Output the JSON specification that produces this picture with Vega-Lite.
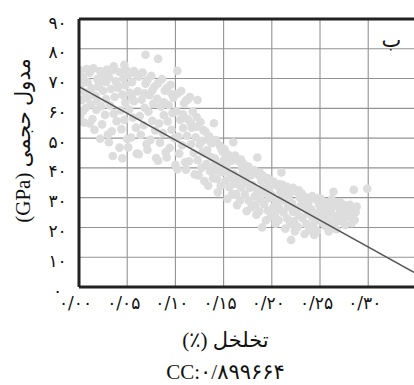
{
  "$schema": "https://vega.github.io/schema/vega-lite/v6.json",
  "width": 335,
  "height": 268,
  "autosize": {"type": "none"},
  "padding": {"left": 79, "top": 19, "right": 0, "bottom": 98},
  "background": "white",
  "view": {"stroke": null},
  "config": {"font": "Liberation Serif, DejaVu Sans"},
  "encoding": {
    "x": {
      "field": "p", "type": "quantitative",
      "scale": {"domain": [0, 0.3475], "nice": false, "zero": false},
      "axis": {
        "values": [0, 0.05, 0.1, 0.15, 0.2, 0.25, 0.3],
        "labelExpr": "['۰/۰۰','۰/۰۵','۰/۱۰','۰/۱۵','۰/۲۰','۰/۲۵','۰/۳۰'][round(datum.value*20)]",
        "grid": false, "ticks": false, "domain": false,
        "labelFont": "DejaVu Sans", "labelFontSize": 17, "labelColor": "#111111",
        "labelPadding": 8, "labelFlush": false, "labelOverlap": false, "labelOffset": -4,
        "title": ["(٪) تخلخل", "CC:۰/۸۹۹۶۶۴"],
        "titleFontSize": 21, "titleFontWeight": "normal", "titleColor": "#111111",
        "titleX": 146, "titleY": 59, "titleAlign": "center", "titleBaseline": "alphabetic",
        "titleLineHeight": 32
      }
    },
    "y": {
      "field": "m", "type": "quantitative",
      "scale": {"domain": [0, 90], "nice": false},
      "axis": {
        "values": [0, 10, 20, 30, 40, 50, 60, 70, 80, 90],
        "labelExpr": "['۰','۱۰','۲۰','۳۰','۴۰','۵۰','۶۰','۷۰','۸۰','۹۰'][round(datum.value/10)]",
        "grid": false, "ticks": false, "domain": false,
        "labelFont": "DejaVu Sans", "labelFontSize": 17, "labelColor": "#111111",
        "labelAlign": "center", "labelPadding": 22, "labelOffset": 4,
        "labelOverlap": false, "labelBound": false, "labelFlush": false,
        "title": "(GPa) مدول حجمی",
        "titleFontSize": 21, "titleFontWeight": "normal", "titleColor": "#111111",
        "titleAngle": -90, "titleX": -56, "titleY": 121, "titleAlign": "center", "titleBaseline": "middle"
      }
    }
  },
  "layer": [
    {
      "data": {"values": [
        {"p": 0.05, "m": 0, "p2": 0.05, "m2": 90},
        {"p": 0.10, "m": 0, "p2": 0.10, "m2": 90},
        {"p": 0.15, "m": 0, "p2": 0.15, "m2": 90},
        {"p": 0.20, "m": 0, "p2": 0.20, "m2": 90},
        {"p": 0.25, "m": 0, "p2": 0.25, "m2": 90},
        {"p": 0.30, "m": 0, "p2": 0.30, "m2": 90},
        {"p": 0, "m": 10, "p2": 0.3475, "m2": 10},
        {"p": 0, "m": 20, "p2": 0.3475, "m2": 20},
        {"p": 0, "m": 30, "p2": 0.3475, "m2": 30},
        {"p": 0, "m": 40, "p2": 0.3475, "m2": 40},
        {"p": 0, "m": 50, "p2": 0.3475, "m2": 50},
        {"p": 0, "m": 60, "p2": 0.3475, "m2": 60},
        {"p": 0, "m": 70, "p2": 0.3475, "m2": 70},
        {"p": 0, "m": 80, "p2": 0.3475, "m2": 80}
      ]},
      "mark": {"type": "rule", "color": "#939393", "strokeWidth": 1.1},
      "encoding": {
        "x2": {"field": "p2"},
        "y2": {"field": "m2"}
      }
    },
    {
      "data": {"values": [
        {"p":0.001,"m":72.8},{"p":0.004,"m":70.5},{"p":0.008,"m":73.2},{"p":0.002,"m":67.9},{"p":0.006,"m":65.4},{"p":0.009,"m":68.7},{"p":0.003,"m":62.8},{"p":0.007,"m":60.1},{"p":0.001,"m":57.6},{"p":0.005,"m":55.2},{"p":0.009,"m":63.5},{"p":0.004,"m":59.0},
        {"p":0.011,"m":71.9},{"p":0.015,"m":73.4},{"p":0.019,"m":69.8},{"p":0.013,"m":66.7},{"p":0.017,"m":64.2},{"p":0.012,"m":61.3},{"p":0.018,"m":59.5},{"p":0.014,"m":56.4},{"p":0.016,"m":52.8},{"p":0.020,"m":67.3},{"p":0.011,"m":54.9},{"p":0.019,"m":62.5},
        {"p":0.022,"m":72.5},{"p":0.026,"m":70.8},{"p":0.029,"m":73.0},{"p":0.021,"m":68.2},{"p":0.025,"m":65.9},{"p":0.028,"m":63.1},{"p":0.023,"m":60.7},{"p":0.027,"m":57.8},{"p":0.024,"m":54.6},{"p":0.030,"m":51.2},{"p":0.022,"m":49.8},{"p":0.028,"m":68.9},
        {"p":0.031,"m":70.4},{"p":0.035,"m":72.9},{"p":0.038,"m":69.1},{"p":0.033,"m":66.5},{"p":0.037,"m":63.8},{"p":0.032,"m":61.0},{"p":0.036,"m":58.2},{"p":0.039,"m":55.7},{"p":0.034,"m":52.3},{"p":0.031,"m":48.6},{"p":0.040,"m":66.9},{"p":0.036,"m":74.1},
        {"p":0.042,"m":72.2},{"p":0.046,"m":70.1},{"p":0.049,"m":72.8},{"p":0.041,"m":67.4},{"p":0.045,"m":64.6},{"p":0.048,"m":61.9},{"p":0.043,"m":59.3},{"p":0.047,"m":56.1},{"p":0.044,"m":53.0},{"p":0.050,"m":49.7},{"p":0.042,"m":46.8},{"p":0.048,"m":67.8},
        {"p":0.051,"m":71.3},{"p":0.055,"m":68.8},{"p":0.058,"m":71.9},{"p":0.053,"m":65.2},{"p":0.057,"m":62.4},{"p":0.052,"m":59.6},{"p":0.056,"m":56.9},{"p":0.059,"m":53.5},{"p":0.054,"m":50.2},{"p":0.051,"m":46.9},{"p":0.060,"m":44.8},{"p":0.055,"m":63.7},
        {"p":0.062,"m":70.6},{"p":0.066,"m":72.0},{"p":0.069,"m":68.3},{"p":0.061,"m":65.7},{"p":0.065,"m":62.9},{"p":0.068,"m":60.2},{"p":0.063,"m":57.4},{"p":0.067,"m":54.3},{"p":0.064,"m":51.1},{"p":0.070,"m":48.0},{"p":0.062,"m":44.6},{"p":0.068,"m":65.0},
        {"p":0.071,"m":69.5},{"p":0.075,"m":70.9},{"p":0.078,"m":67.2},{"p":0.073,"m":64.4},{"p":0.077,"m":61.5},{"p":0.072,"m":58.9},{"p":0.076,"m":55.8},{"p":0.079,"m":52.6},{"p":0.074,"m":49.4},{"p":0.071,"m":46.1},{"p":0.080,"m":43.3},{"p":0.076,"m":66.0},
        {"p":0.082,"m":68.4},{"p":0.086,"m":69.8},{"p":0.089,"m":65.9},{"p":0.081,"m":63.2},{"p":0.085,"m":60.6},{"p":0.088,"m":57.7},{"p":0.083,"m":54.9},{"p":0.087,"m":51.7},{"p":0.084,"m":48.5},{"p":0.090,"m":45.2},{"p":0.082,"m":42.4},{"p":0.088,"m":62.0},
        {"p":0.091,"m":66.8},{"p":0.095,"m":67.9},{"p":0.098,"m":63.6},{"p":0.093,"m":61.1},{"p":0.097,"m":58.4},{"p":0.092,"m":55.6},{"p":0.096,"m":52.8},{"p":0.099,"m":49.9},{"p":0.094,"m":46.7},{"p":0.091,"m":43.5},{"p":0.100,"m":41.0},{"p":0.096,"m":64.8},
        {"p":0.102,"m":64.9},{"p":0.106,"m":65.8},{"p":0.109,"m":61.7},{"p":0.101,"m":59.0},{"p":0.105,"m":56.2},{"p":0.108,"m":53.4},{"p":0.103,"m":50.5},{"p":0.107,"m":47.6},{"p":0.104,"m":44.8},{"p":0.110,"m":41.9},{"p":0.102,"m":39.6},{"p":0.108,"m":58.0},
        {"p":0.111,"m":62.6},{"p":0.115,"m":63.8},{"p":0.118,"m":58.9},{"p":0.113,"m":56.3},{"p":0.117,"m":53.5},{"p":0.112,"m":50.8},{"p":0.116,"m":47.9},{"p":0.119,"m":45.0},{"p":0.114,"m":42.2},{"p":0.111,"m":39.4},{"p":0.120,"m":37.8},{"p":0.116,"m":55.0},
        {"p":0.122,"m":57.1},{"p":0.126,"m":55.4},{"p":0.129,"m":52.7},{"p":0.121,"m":50.3},{"p":0.125,"m":47.8},{"p":0.128,"m":45.2},{"p":0.123,"m":42.6},{"p":0.127,"m":40.0},{"p":0.124,"m":37.5},{"p":0.130,"m":35.6},{"p":0.122,"m":53.8},{"p":0.128,"m":49.1},
        {"p":0.131,"m":52.2},{"p":0.135,"m":50.6},{"p":0.138,"m":48.3},{"p":0.133,"m":46.0},{"p":0.137,"m":43.6},{"p":0.132,"m":41.3},{"p":0.136,"m":38.9},{"p":0.139,"m":36.5},{"p":0.134,"m":34.0},{"p":0.131,"m":44.7},{"p":0.140,"m":40.8},{"p":0.136,"m":48.9},
        {"p":0.142,"m":49.3},{"p":0.146,"m":47.5},{"p":0.149,"m":45.4},{"p":0.141,"m":43.1},{"p":0.145,"m":40.9},{"p":0.148,"m":38.6},{"p":0.143,"m":36.3},{"p":0.147,"m":34.0},{"p":0.144,"m":31.8},{"p":0.150,"m":42.5},{"p":0.142,"m":39.2},{"p":0.148,"m":46.2},
        {"p":0.151,"m":46.2},{"p":0.155,"m":44.4},{"p":0.158,"m":42.3},{"p":0.153,"m":40.1},{"p":0.157,"m":37.9},{"p":0.152,"m":35.7},{"p":0.156,"m":33.5},{"p":0.159,"m":31.2},{"p":0.154,"m":29.6},{"p":0.151,"m":38.8},{"p":0.160,"m":36.0},{"p":0.156,"m":43.0},
        {"p":0.162,"m":44.1},{"p":0.166,"m":42.2},{"p":0.169,"m":40.0},{"p":0.161,"m":37.9},{"p":0.165,"m":35.7},{"p":0.168,"m":33.4},{"p":0.163,"m":31.2},{"p":0.167,"m":29.0},{"p":0.164,"m":27.5},{"p":0.170,"m":38.2},{"p":0.162,"m":34.6},{"p":0.168,"m":42.8},
        {"p":0.171,"m":41.3},{"p":0.175,"m":39.6},{"p":0.178,"m":37.5},{"p":0.173,"m":35.4},{"p":0.177,"m":33.3},{"p":0.172,"m":31.1},{"p":0.176,"m":29.0},{"p":0.179,"m":26.8},{"p":0.174,"m":25.5},{"p":0.171,"m":36.9},{"p":0.180,"m":34.2},{"p":0.176,"m":40.4},
        {"p":0.182,"m":39.2},{"p":0.186,"m":37.6},{"p":0.189,"m":35.6},{"p":0.181,"m":33.6},{"p":0.185,"m":31.6},{"p":0.188,"m":29.5},{"p":0.183,"m":27.5},{"p":0.187,"m":25.4},{"p":0.184,"m":24.3},{"p":0.190,"m":33.0},{"p":0.182,"m":30.4},{"p":0.188,"m":38.3},
        {"p":0.191,"m":37.3},{"p":0.195,"m":35.7},{"p":0.198,"m":33.7},{"p":0.193,"m":31.8},{"p":0.197,"m":29.8},{"p":0.192,"m":27.8},{"p":0.196,"m":25.7},{"p":0.199,"m":23.6},{"p":0.194,"m":22.4},{"p":0.191,"m":33.1},{"p":0.200,"m":31.0},{"p":0.196,"m":36.5},
        {"p":0.202,"m":35.3},{"p":0.206,"m":33.9},{"p":0.209,"m":32.0},{"p":0.201,"m":30.1},{"p":0.205,"m":28.2},{"p":0.208,"m":26.3},{"p":0.203,"m":24.3},{"p":0.207,"m":22.4},{"p":0.204,"m":21.3},{"p":0.210,"m":29.2},{"p":0.202,"m":27.0},{"p":0.208,"m":34.5},
        {"p":0.211,"m":34.3},{"p":0.215,"m":32.8},{"p":0.218,"m":30.9},{"p":0.213,"m":29.0},{"p":0.217,"m":27.0},{"p":0.212,"m":25.0},{"p":0.216,"m":23.0},{"p":0.219,"m":21.1},{"p":0.214,"m":19.6},{"p":0.211,"m":30.5},{"p":0.220,"m":28.1},{"p":0.216,"m":33.6},
        {"p":0.222,"m":33.3},{"p":0.226,"m":31.9},{"p":0.229,"m":30.0},{"p":0.221,"m":28.1},{"p":0.225,"m":26.1},{"p":0.228,"m":24.1},{"p":0.223,"m":22.1},{"p":0.227,"m":20.2},{"p":0.224,"m":18.7},{"p":0.230,"m":27.3},{"p":0.222,"m":25.3},{"p":0.228,"m":32.5},
        {"p":0.231,"m":31.4},{"p":0.235,"m":30.2},{"p":0.238,"m":28.5},{"p":0.233,"m":26.7},{"p":0.237,"m":24.9},{"p":0.232,"m":23.0},{"p":0.236,"m":21.1},{"p":0.239,"m":19.2},{"p":0.234,"m":17.8},{"p":0.231,"m":27.6},{"p":0.240,"m":25.8},{"p":0.236,"m":29.3},
        {"p":0.242,"m":30.5},{"p":0.246,"m":29.4},{"p":0.249,"m":27.8},{"p":0.241,"m":26.1},{"p":0.245,"m":24.3},{"p":0.248,"m":22.5},{"p":0.243,"m":20.6},{"p":0.247,"m":18.8},{"p":0.244,"m":17.5},{"p":0.250,"m":25.5},{"p":0.242,"m":23.4},{"p":0.248,"m":29.8},
        {"p":0.251,"m":29.6},{"p":0.255,"m":28.5},{"p":0.258,"m":27.0},{"p":0.253,"m":25.4},{"p":0.257,"m":23.7},{"p":0.252,"m":22.0},{"p":0.256,"m":20.3},{"p":0.259,"m":18.7},{"p":0.254,"m":26.6},{"p":0.251,"m":24.1},{"p":0.260,"m":21.5},
        {"p":0.262,"m":29.4},{"p":0.266,"m":28.3},{"p":0.269,"m":26.9},{"p":0.261,"m":25.4},{"p":0.265,"m":23.8},{"p":0.268,"m":22.2},{"p":0.263,"m":20.6},{"p":0.267,"m":19.4},{"p":0.264,"m":27.1},{"p":0.270,"m":24.6},
        {"p":0.271,"m":28.5},{"p":0.275,"m":27.5},{"p":0.278,"m":26.2},{"p":0.273,"m":24.9},{"p":0.277,"m":23.5},{"p":0.272,"m":22.1},{"p":0.276,"m":20.8},{"p":0.279,"m":25.6},{"p":0.274,"m":26.8},
        {"p":0.281,"m":27.6},{"p":0.284,"m":26.4},{"p":0.287,"m":25.1},{"p":0.282,"m":23.8},{"p":0.286,"m":22.5},{"p":0.283,"m":21.4},{"p":0.288,"m":27.0},
        {"p":0.047,"m":74.6},{"p":0.069,"m":78.0},{"p":0.082,"m":76.6},{"p":0.057,"m":72.5},{"p":0.102,"m":72.6},{"p":0.113,"m":63.0},{"p":0.123,"m":62.8},
        {"p":0.264,"m":32.0},{"p":0.285,"m":32.6},{"p":0.299,"m":33.0},{"p":0.035,"m":44.0},{"p":0.045,"m":43.2},{"p":0.140,"m":55.0},{"p":0.160,"m":48.6},
        {"p":0.185,"m":43.5},{"p":0.210,"m":38.5},{"p":0.220,"m":15.8},{"p":0.190,"m":20.0}
      ]},
      "mark": {"type": "circle", "size": 75, "color": "#dddddd", "opacity": 1, "clip": true}
    },
    {
      "data": {"values": [{"p": 0, "m": 67.3}, {"p": 0.3475, "m": 4.9}]},
      "mark": {"type": "line", "color": "#555555", "strokeWidth": 1.6, "clip": true}
    },
    {
      "data": {"values": [
        {"p": 0, "m": 0, "p2": 0, "m2": 90},
        {"p": 0, "m": 0, "p2": 0.3475, "m2": 0},
        {"p": 0, "m": 90, "p2": 0.3475, "m2": 90}
      ]},
      "mark": {"type": "rule", "color": "#222222", "strokeWidth": 3},
      "encoding": {
        "x2": {"field": "p2"},
        "y2": {"field": "m2"}
      }
    },
    {
      "data": {"values": [{"p": 0.324, "m": 82.5, "panel": "ب"}]},
      "mark": {"type": "text", "font": "DejaVu Sans", "fontSize": 21, "color": "#111111"},
      "encoding": {"text": {"field": "panel"}}
    }
  ]
}
